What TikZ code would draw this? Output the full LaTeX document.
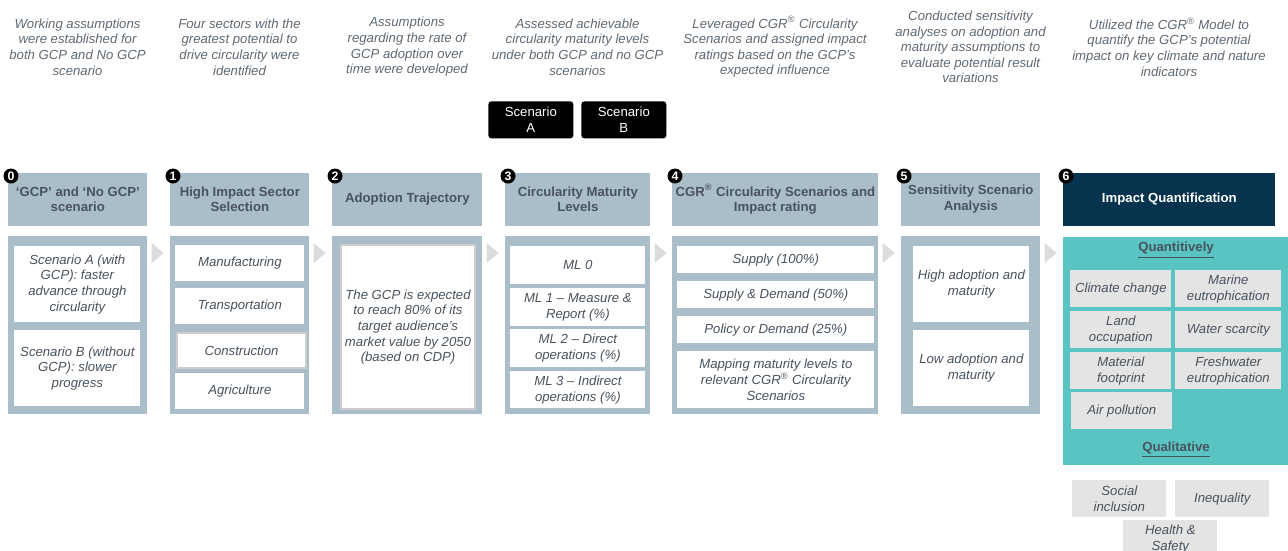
\documentclass[tikz,border=0pt]{standalone}
\usepackage{fontspec}
\setmainfont{Liberation Sans}
\usepackage{tikz}
\usetikzlibrary{calc}
\definecolor{hdrblue}{HTML}{A9BEC9}
\definecolor{slate}{HTML}{48535E}
\definecolor{descgrey}{HTML}{5E6973}
\definecolor{navy}{HTML}{06344F}
\definecolor{teal}{HTML}{5AC4C3}
\definecolor{cellgrey}{HTML}{E4E4E4}
\definecolor{trigrey}{HTML}{DCDCDC}
\definecolor{edgegrey}{HTML}{CDCDCD}
\newdimen\px \px=0.2mm
\newcommand{\fs}{\fontsize{7.5}{8.9}\selectfont}

\begin{document}
\begin{tikzpicture}[x=0.2mm, y=-0.2mm,
    hdr/.style={anchor=north west, fill=hdrblue, text=slate, font=\fs\bfseries, align=center, inner sep=0pt, minimum height=53\px},
    bodybox/.style={anchor=north west, fill=hdrblue, inner sep=0pt, minimum height=178\px},
    cell/.style={anchor=north west, fill=white, text=slate, font=\fs\itshape, align=center, inner sep=0pt},
    gcell/.style={cell, fill=cellgrey, minimum height=37\px},
    desc/.style={text=descgrey, font=\fs\itshape, align=center},
    badge/.style={circle, fill=black, text=white, font=\fontsize{7}{7}\selectfont\bfseries, inner sep=0pt, minimum size=15\px},
    scen/.style={anchor=north west, fill=black, rounded corners=3\px, text=white, font=\fs, align=center, inner sep=0pt, minimum width=85\px, minimum height=37\px},
    tri/.style={fill=trigrey}]
    \useasboundingbox (0,0) rectangle (1288,550);
    \clip (0,0) rectangle (1288,550);

    \node[desc] (d0) at (77.5,47) {Working assumptions\\were established for\\both GCP and No GCP\\scenario};
    \node[desc] (d1) at (239.5,47) {Four sectors with the\\greatest potential to\\drive circularity were\\identified};
    \node[desc] (d2) at (407,47) {Assumptions\\regarding the rate of\\GCP adoption over\\time were developed};
    \node[desc] (d3) at (577.5,47) {Assessed achievable\\circularity maturity levels\\under both GCP and no GCP\\scenarios};
    \node[desc] (d4) at (775,47) {Leveraged CGR\textsuperscript{®} Circularity\\Scenarios and assigned impact\\ratings based on the GCP's\\expected influence};
    \node[desc] (d5) at (970.5,47) {Conducted sensitivity\\analyses on adoption and\\maturity assumptions to\\evaluate potential result\\variations};
    \node[desc] (d6) at (1169,47) {Utilized the CGR\textsuperscript{®} Model to\\quantify the GCP's potential\\impact on key climate and nature\\indicators};

    \node[scen] (scA) at (488,101) {Scenario\\A};
    \node[scen] (scB) at (581,101) {Scenario\\B};

    \node[hdr, minimum width=139\px] (h0) at (8,172.5) {`GCP' and `No GCP'\\scenario};
    \node[hdr, minimum width=139\px] (h1) at (170,172.5) {High Impact Sector\\Selection};
    \node[hdr, minimum width=150\px] (h2) at (332,172.5) {Adoption Trajectory};
    \node[hdr, minimum width=145\px] (h3) at (505,172.5) {Circularity Maturity\\Levels};
    \node[hdr, minimum width=206\px] (h4) at (672,172.5) {CGR\textsuperscript{®} Circularity Scenarios and\\Impact rating};
    \node[hdr, minimum width=139\px] (h5) at (901,172.5) {Sensitivity Scenario\\Analysis};
    \node[hdr, minimum width=212\px, fill=navy, text=white] (h6) at (1063,172.5) {Impact Quantification};

    \node[badge] (n0) at (11,176) {0};
    \node[badge] (n1) at (173,176) {1};
    \node[badge] (n2) at (335,176) {2};
    \node[badge] (n3) at (508,176) {3};
    \node[badge] (n4) at (675,176) {4};
    \node[badge] (n5) at (904,176) {5};
    \node[badge] (n6) at (1066,176) {6};

    \node[bodybox, minimum width=139\px] (b0) at (8,236) {};
    \node[bodybox, minimum width=139\px] (b1) at (170,236) {};
    \node[bodybox, minimum width=150\px] (b2) at (332,236) {};
    \node[bodybox, minimum width=145\px] (b3) at (505,236) {};
    \node[bodybox, minimum width=206\px] (b4) at (672,236) {};
    \node[bodybox, minimum width=139\px] (b5) at (901,236) {};
    \node[bodybox, minimum width=225\px, minimum height=228\px, fill=teal] (b6) at (1063,237) {};

    \foreach \b in {b0,b1,b2,b3,b4,b5}
        \fill[tri] ($(\b.north east)+(4,7)$) -- ++(0,20) -- ++(12,-10) -- cycle;

    \node[cell, minimum width=126\px, minimum height=76\px] (c0a) at (14,246) {Scenario A (with\\GCP): faster\\advance through\\circularity};
    \node[cell, minimum width=126\px, minimum height=76\px] (c0b) at (14,330) {Scenario B (without\\GCP): slower\\progress};

    \node[cell, minimum width=129\px, minimum height=36\px] (c1a) at (175,245) {Manufacturing};
    \node[cell, minimum width=129\px, minimum height=36\px] (c1b) at (175,288) {Transportation};
    \node[cell, minimum width=129\px, minimum height=35\px, draw=edgegrey, line width=2\px] (c1c) at (176,332) {Construction};
    \node[cell, minimum width=129\px, minimum height=36\px] (c1d) at (175,373) {Agriculture};

    \node[cell, minimum width=134\px, minimum height=164\px, draw=edgegrey, line width=2\px] (c2a) at (340,244) {The GCP is expected\\to reach 80\% of its\\target audience's\\market value by 2050\\(based on CDP)};

    \node[cell, minimum width=135\px, minimum height=38\px] (c3a) at (510,246) {ML 0};
    \node[cell, minimum width=135\px, minimum height=38\px] (c3b) at (510,288) {ML 1 -- Measure \&\\Report (\%)};
    \node[cell, minimum width=135\px, minimum height=38\px] (c3c) at (510,329) {ML 2 -- Direct\\operations (\%)};
    \node[cell, minimum width=135\px, minimum height=37\px] (c3d) at (510,371) {ML 3 -- Indirect\\operations (\%)};

    \node[cell, minimum width=197\px, minimum height=27\px] (c4a) at (677,246) {Supply (100\%)};
    \node[cell, minimum width=197\px, minimum height=27\px] (c4b) at (677,281) {Supply \& Demand (50\%)};
    \node[cell, minimum width=197\px, minimum height=27\px] (c4c) at (677,316) {Policy or Demand (25\%)};
    \node[cell, minimum width=197\px, minimum height=57\px] (c4d) at (677,351) {Mapping maturity levels to\\relevant CGR\textsuperscript{®} Circularity\\Scenarios};

    \node[cell, minimum width=116\px, minimum height=76\px] (c5a) at (913,246) {High adoption and\\maturity};
    \node[cell, minimum width=116\px, minimum height=76\px] (c5b) at (913,330) {Low adoption and\\maturity};

    \node[text=slate, font=\fs\bfseries] (qt) at (1176,250) {\underline{Quantitively}};
    \node[gcell, minimum width=101\px] (g1) at (1070,270) {Climate change};
    \node[gcell, minimum width=106\px] (g2) at (1175,270) {Marine\\eutrophication};
    \node[gcell, minimum width=101\px] (g3) at (1070,311) {Land\\occupation};
    \node[gcell, minimum width=106\px] (g4) at (1175,311) {Water scarcity};
    \node[gcell, minimum width=101\px] (g5) at (1070,352) {Material\\footprint};
    \node[gcell, minimum width=106\px] (g6) at (1175,352) {Freshwater\\eutrophication};
    \node[gcell, minimum width=101\px] (g7) at (1071,392) {Air pollution};
    \node[text=slate, font=\fs\bfseries] (ql) at (1176,450) {\underline{Qualitative}};

    \node[gcell, minimum width=94\px] (s1) at (1072,480) {Social\\inclusion};
    \node[gcell, minimum width=94\px] (s2) at (1175,480) {Inequality};
    \node[gcell, minimum width=94\px] (s3) at (1123,520) {Health \&\\Safety};
\end{tikzpicture}
\end{document}
